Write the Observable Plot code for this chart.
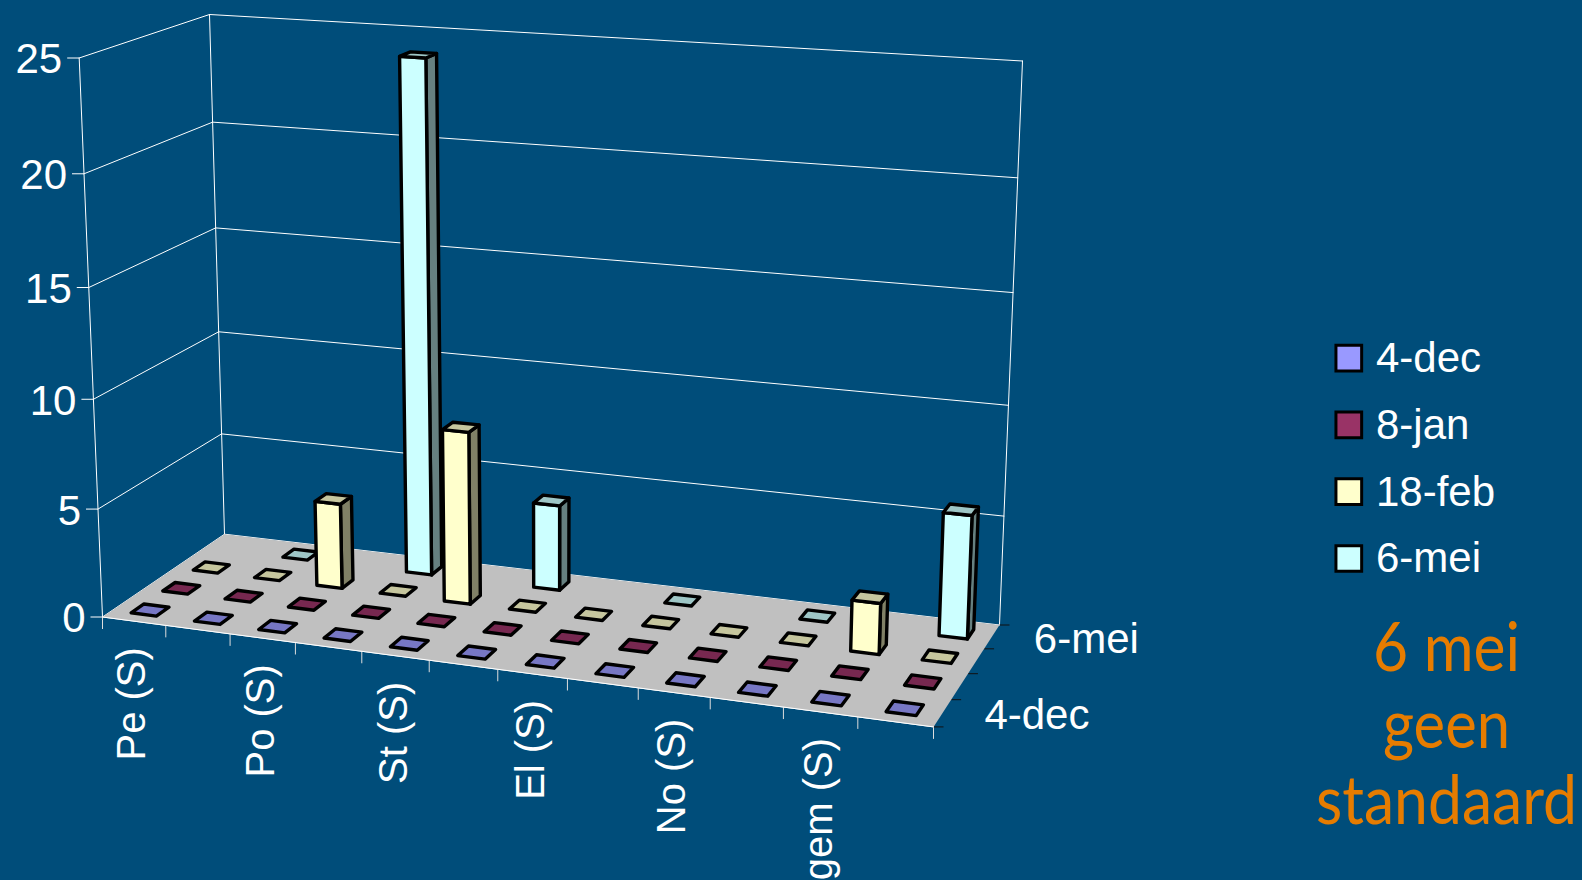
<!DOCTYPE html>
<html>
<head>
<meta charset="utf-8">
<style>
html,body{margin:0;padding:0;background:#004d7a;overflow:hidden}
svg{display:block}
</style>
<script src="https://cdn.jsdelivr.net/npm/d3@7"></script>
<script src="https://cdn.jsdelivr.net/npm/@observablehq/plot@0.6"></script>
</head>
<body>
<div id="chart"></div>
<script>
// ---- data ----
const categories = ["Pe (S)", "", "Po (S)", "", "St (S)", "", "El (S)", "", "No (S)", "", "gem (S)", ""];
const seriesNames = ["4-dec", "8-jan", "18-feb", "6-mei"];
const dec4  = [0, 0, 0, 0, 0, 0, 0, 0, 0, 0, 0, 0];
const jan8  = [0, 0, 0, 0, 0, 0, 0, 0, 0, 0, 0, 0];
const feb18 = [0, 0, 4, 0, 8, 0, 0, 0, 0, 0, 2.3, 0];
const mei6  = [null, 0, null, 24, null, 4, null, 0, null, 0, null, 5.6];
const seriesValues = [dec4, jan8, feb18, mei6];
const valueTicks = [0, 5, 10, 15, 20, 25];
const frontColors = ["#9999ff", "#993366", "#ffffcc", "#ccffff"];
const topColors   = ["#7777c4", "#772850", "#c6c69e", "#9ec6c6"];
const sideColors  = ["#666699", "#5c1f3d", "#808066", "#668080"];
const note = ["6 mei", "geen", "standaard"];
const noteWidths = [147, 127, 261];

// ---- camera: floor and ceiling corners of the chart box on the page ----
const floorQuad = {p00:[102,616.5], p10:[933,726.4], p11:[999,624.5], p01:[224,533.7]};
const topQuad   = {p00:[78.7,57.5], p10:[953.4,114.5], p11:[1022,60.5], p01:[209,14]};
function homography({p00,p10,p11,p01}) {
  const dx1=p10[0]-p11[0], dx2=p01[0]-p11[0], sx=p00[0]-p10[0]+p11[0]-p01[0];
  const dy1=p10[1]-p11[1], dy2=p01[1]-p11[1], sy=p00[1]-p10[1]+p11[1]-p01[1];
  const det=dx1*dy2-dx2*dy1;
  const g=(sx*dy2-dx2*sy)/det, h=(dx1*sy-sx*dy1)/det;
  return (u,v)=>{
    const w=g*u+h*v+1;
    return [((p10[0]-p00[0]+g*p10[0])*u+(p01[0]-p00[0]+h*p01[0])*v+p00[0])/w,
            ((p10[1]-p00[1]+g*p10[1])*u+(p01[1]-p00[1]+h*p01[1])*v+p00[1])/w];
  };
}
const floorH = homography(floorQuad), topH = homography(topQuad);
const maxValue = 25;
function project(u0,v,value){
  const u=u0+0.024*u0*(1-u0);
  const t=value/maxValue, W=t/(1+0.045*(1-t));
  const a=floorH(u,v), b=topH(u,v);
  return [a[0]+(b[0]-a[0])*W, a[1]+(b[1]-a[1])*W];
}

// ---- polygons and segments, all derived from the data ----
const nCat=categories.length, nSer=seriesNames.length;
const barFrac=0.40, depthFrac=0.40;
const polys=[];
function addPoly(id,fill,corners,sw){ corners.forEach(c=>{const p=project(...c);polys.push({id,fill,sw,x:p[0],y:p[1]});}); }
addPoly("floor","#c0c0c0",[[0,0,0],[1,0,0],[1,1,0],[0,1,0]],0);
for(let s=nSer-1;s>=0;s--){
  for(let c=0;c<nCat;c++){
    const val=seriesValues[s][c];
    if(val==null) continue;
    const u0=(c+0.5-barFrac/2)/nCat,u1=(c+0.5+barFrac/2)/nCat;
    const v0=(s+0.5-depthFrac/2)/nSer,v1=(s+0.5+depthFrac/2)/nSer;
    const id=`b${s}-${c}`;
    if(val>0){
      addPoly(id+"s",sideColors[s],[[u1,v0,0],[u1,v1,0],[u1,v1,val],[u1,v0,val]],3.4);
      addPoly(id+"f",frontColors[s],[[u0,v0,0],[u1,v0,0],[u1,v0,val],[u0,v0,val]],3.4);
    }
    addPoly(id+"t",topColors[s],[[u0,v0,val],[u1,v0,val],[u1,v1,val],[u0,v1,val]],3.4);
  }
}
const seg=[]; // white wall and axis lines
function addSeg(id,a,b){const p=project(...a),q=project(...b);seg.push({id,x:p[0],y:p[1]},{id,x:q[0],y:q[1]});}
valueTicks.forEach(t=>{
  addSeg("lw"+t,[0,0,t],[0,1,t]);
  addSeg("bw"+t,[0,1,t],[1,1,t]);
});
addSeg("e0",[0,0,0],[0,0,maxValue]);
addSeg("e1",[0,1,0],[0,1,maxValue]);
addSeg("e2",[1,1,0],[1,1,maxValue]);
addSeg("fe",[0,0,0],[1,0,0]);
const xTickLen=12, yTickLen=12, vTickLen=10;
const yTicks=valueTicks.map(t=>{const p=project(0,0,t);return {t,x:p[0],y:p[1]};});
const xTicks=d3.range(nCat+1).map(i=>{const p=project(i/nCat,0,0);return {x:p[0],y:p[1]};});
const vTicks=d3.range(nSer+1).map(i=>{const p=project(1,i/nSer,0);return {x:p[0],y:p[1]};});
const catLabels=categories.map((c,i)=>{const p=project((i+0.5)/nCat,0,0);return {c,x:p[0],y:p[1]};}).filter(d=>d.c);
const serLabels=[0,nSer-1].map(i=>{const p=project(1,(i+0.5)/nSer,0);return {c:seriesNames[i],x:p[0],y:p[1]};});
const legend=seriesNames.map((n,i)=>({n,i,color:frontColors[i]}));

const font="'Liberation Sans',Arial,sans-serif";
const chart=Plot.plot({
  width:1582,height:880,margin:0,
  style:{background:"#004d7a",fontFamily:font},
  x:{type:"identity",axis:null},
  y:{type:"identity",axis:null},
  color:{type:"identity"},
  marks:[
    Plot.line(seg,{x:"x",y:"y",z:"id",stroke:"#ffffff",strokeWidth:1}),
    Plot.link(yTicks,{x1:d=>d.x-yTickLen,y1:"y",x2:"x",y2:"y",stroke:"#ffffff",strokeWidth:1}),
    Plot.link(xTicks,{x1:"x",y1:"y",x2:"x",y2:d=>d.y+xTickLen,stroke:"#dddddd",strokeWidth:1}),
    Plot.link(vTicks,{x1:"x",y1:"y",x2:d=>d.x+vTickLen,y2:"y",stroke:"#111111",strokeWidth:1}),
    Plot.line(polys,{x:"x",y:"y",z:"id",fill:"fill",stroke:d=>d.sw?"#000000":"none",strokeWidth:"sw",curve:"linear-closed",strokeLinejoin:"round"}),
    Plot.line(seg.filter(d=>d.id==="fe"),{x:"x",y:"y",stroke:"#ffffff",strokeWidth:1}),
    Plot.text(yTicks,{x:d=>d.x-yTickLen-5,y:d=>d.y+2,text:"t",textAnchor:"end",fill:"#ffffff",fontSize:42}),
    Plot.text(catLabels,{x:d=>d.x-1.5,y:d=>d.y+26,text:"c",rotate:-90,textAnchor:"end",fill:"#ffffff",fontSize:40}),
    Plot.text(serLabels,{x:d=>d.x+42,y:d=>d.y+2.5,text:"c",textAnchor:"start",fill:"#ffffff",fontSize:42}),
    Plot.dot(legend,{x:1348.3,y:d=>357.6+d.i*66.8,symbol:"square",r:14.5,fill:"color",stroke:"#000000",strokeWidth:3}),
    Plot.text(legend,{x:1375.5,y:d=>358+d.i*66.8,text:"n",textAnchor:"start",fill:"#ffffff",fontSize:42}),
    Plot.text(note,{x:1446,y:(d,i)=>649+i*76.5,text:d=>d,textAnchor:"middle",fill:"#e67c00",fontSize:68,fontFamily:"Lato,sans-serif",className:"note-text"})
  ]
});
document.getElementById("chart").append(chart);
chart.querySelectorAll(".note-text text").forEach((t,i)=>{
  const f=noteWidths[i]/t.getComputedTextLength();
  t.setAttribute("transform",(t.getAttribute("transform")||"")+` scale(${f},1)`);
});
</script>
</body>
</html>
